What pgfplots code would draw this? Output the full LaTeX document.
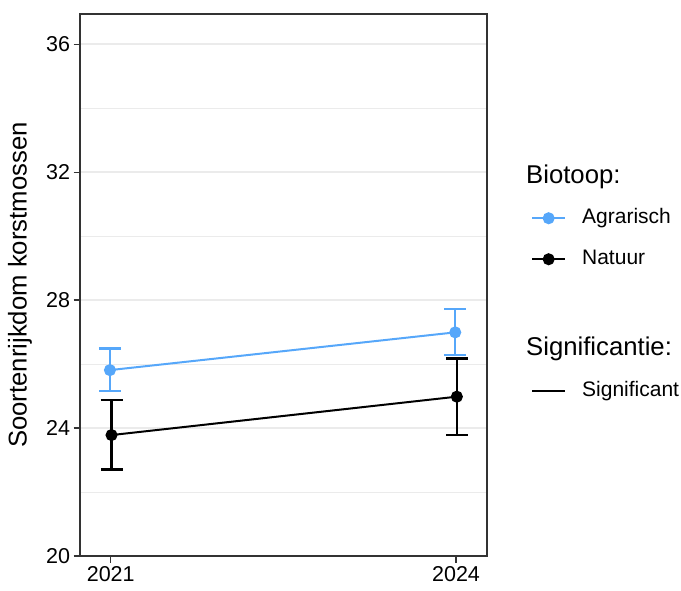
\documentclass[border=0pt]{standalone}
\usepackage{fontspec}
\setmainfont{Liberation Sans}
\usepackage{pgfplots}
\usepackage{pgfplotstable}
\pgfplotsset{compat=1.18}

\definecolor{agr}{RGB}{86,167,250}
\definecolor{gridgrey}{RGB}{235,235,235}
\definecolor{framegrey}{RGB}{51,51,51}

% year, mean, upper and lower error (points slightly dodged per biotope)
\pgfplotstableread{
x         y      ep    em
2020.993  25.81  0.68  0.65
2023.993  26.99  0.73  0.71
}\agrarisch
\pgfplotstableread{
x         y      ep    em
2021.007  23.78  1.09  1.07
2024.007  24.98  1.20  1.20
}\natuur

\newcommand{\tickfont}{\fontsize{21.5}{25}\selectfont}
\newcommand{\titlefont}{\fontsize{25.7}{30}\selectfont}
\newcommand{\keyfont}{\fontsize{21}{25}\selectfont}

\pgfplotsset{
  panel/.style={
    at={(80pt,-556pt)}, anchor=south west,
    scale only axis, width=407pt, height=542pt,
    xmin=2020.733, xmax=2024.269, ymin=20, ymax=36.94,
  },
  keystyle/.style={
    legend cell align=left,
    legend image code/.code={
      \draw[mark repeat=2,mark phase=2,##1]
        plot coordinates {(0pt,0pt) (16.5pt,0pt) (33pt,0pt)};},
    legend style={draw=none, fill=none, inner sep=0pt,
      font=\keyfont, column sep=16pt, row sep=21pt,
      nodes={inner sep=0pt, text height=15pt, text depth=5pt},
      anchor=north west},
  },
}

\begin{document}
\begin{tikzpicture}
\begin{axis}[
  panel, keystyle,
  legend style={at={(axis description cs:1.108,0.642)}},
  xtick={2021,2024}, ytick={20,24,28,32,36}, minor ytick={22,26,30,34},
  xticklabel style={/pgf/number format/1000 sep={}},
  /pgf/number format/assume math mode=true,
  ticklabel style={font=\tickfont},
  tick align=outside, tick pos=left,
  major tick length=6.5pt, minor tick length=0pt,
  tick style={line width=1.1pt, draw=framegrey},
  axis line style={line width=1.1pt, draw=framegrey},
  ymajorgrids, yminorgrids, xmajorgrids=false,
  major grid style={line width=1.2pt, draw=gridgrey},
  minor grid style={line width=0.7pt, draw=gridgrey},
  ylabel={Soortenrijkdom korstmossen},
  ylabel style={font=\titlefont, anchor=center, at={(axis description cs:-0.1474,0.5)}},
  error bars/y dir=both, error bars/y explicit,
]
\addplot[agr, line width=2pt, mark=*, mark size=5pt,
  mark options={solid},
  error bars/error bar style={line width=2.5pt},
  error bars/error mark options={rotate=90, mark size=11pt, line width=2.5pt}]
  table[x=x, y=y, y error plus=ep, y error minus=em] {\agrarisch};
\addlegendentry{Agrarisch}
\addplot[black, line width=2pt, mark=*, mark size=5pt,
  mark options={solid},
  error bars/error bar style={line width=2.5pt},
  error bars/error mark options={rotate=90, mark size=11pt, line width=2.5pt}]
  table[x=x, y=y, y error plus=ep, y error minus=em] {\natuur};
\addlegendentry{Natuur}
\end{axis}

% second legend block (significance)
\begin{axis}[
  panel, keystyle, hide axis,
  legend style={at={(axis description cs:1.108,0.323)}},
]
\addplot[draw=none, forget plot] coordinates {(2022,25)};
\addlegendimage{black, line width=2pt, no markers}
\addlegendentry{Significant}
\end{axis}

\node[anchor=base west, font=\titlefont, inner sep=0pt] at (526pt,-183pt) {Biotoop:};
\node[anchor=base west, font=\titlefont, inner sep=0pt] at (526pt,-355pt) {Significantie:};

\pgfresetboundingbox
\useasboundingbox (0pt,0pt) rectangle (681pt,-590pt);
\end{tikzpicture}
\end{document}
